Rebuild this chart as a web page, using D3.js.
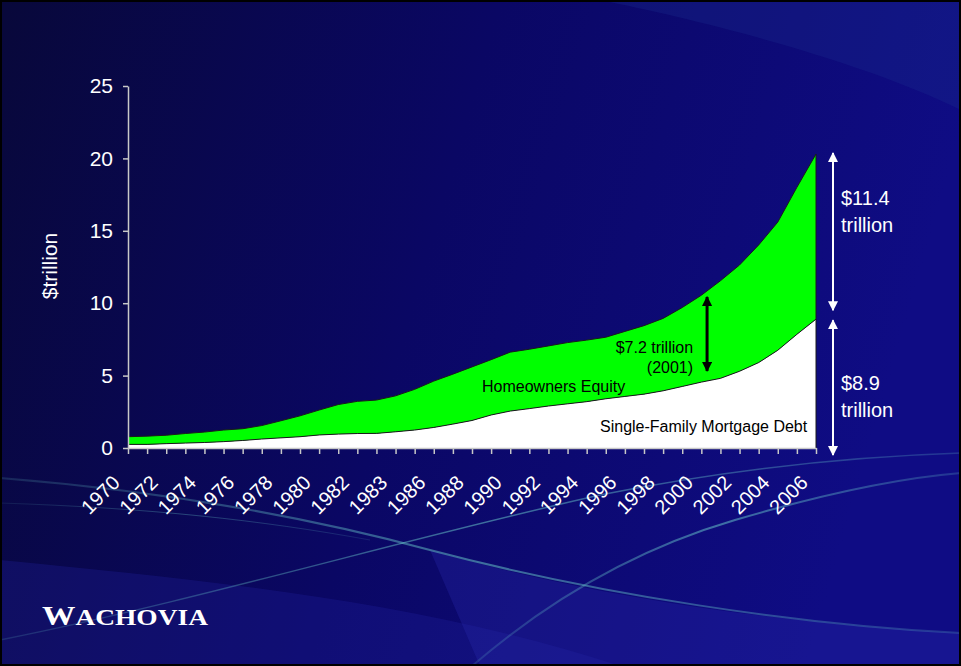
<!DOCTYPE html>
<html>
<head>
<meta charset="utf-8">
<script src="https://cdn.jsdelivr.net/npm/d3@7"></script>
<style>
body { margin: 0; background: #000; }
svg { display: block; font-family: "Liberation Sans", Arial, sans-serif; }
</style>
</head>
<body>
<svg id="chart" width="961" height="666"></svg>
<script>
// $trillion, one value per year 1970..2006
var years = d3.range(1970, 2007);
var mortgageDebt = [0.25, 0.25, 0.30, 0.34, 0.38, 0.44, 0.52, 0.62, 0.70, 0.78,
    0.90, 0.96, 1.00, 1.01, 1.12, 1.24, 1.42, 1.65, 1.90, 2.28,
    2.55, 2.72, 2.90, 3.05, 3.20, 3.40, 3.56, 3.72, 3.95, 4.25,
    4.55, 4.81, 5.30, 5.90, 6.75, 7.85, 8.90];
var homeownersEquity = [0.53, 0.57, 0.58, 0.66, 0.72, 0.80, 0.81, 0.93, 1.18, 1.44,
    1.72, 2.04, 2.22, 2.30, 2.48, 2.81, 3.20, 3.45, 3.70, 3.82,
    4.07, 4.10, 4.15, 4.23, 4.25, 4.25, 4.49, 4.73, 5.00, 5.45,
    6.00, 6.74, 7.34, 8.12, 8.85, 10.15, 11.40];
// labels as printed on the slide (note "1983" sits where 1984 should be)
var labelYears = [1970, 1972, 1974, 1976, 1978, 1980, 1982, 1984, 1986, 1988,
    1990, 1992, 1994, 1996, 1998, 2000, 2002, 2004, 2006];
var labelTexts = ["1970", "1972", "1974", "1976", "1978", "1980", "1982", "1983", "1986", "1988",
    "1990", "1992", "1994", "1996", "1998", "2000", "2002", "2004", "2006"];
var yTicks = [0, 5, 10, 15, 20, 25];

var svg = d3.select("#chart"),
    width = 961, height = 666;

// ---- background slide ----
var defs = svg.append("defs");
var bg = defs.append("linearGradient").attr("id", "bg")
    .attr("x1", 0).attr("y1", 0).attr("x2", 1).attr("y2", 0.2);
bg.append("stop").attr("offset", 0).attr("stop-color", "#08083a");
bg.append("stop").attr("offset", 0.5).attr("stop-color", "#0a0764");
bg.append("stop").attr("offset", 1).attr("stop-color", "#0f0c84");

var glow = defs.append("linearGradient").attr("id", "glow")
    .attr("x1", 0).attr("y1", 0).attr("x2", 1).attr("y2", 0);
glow.append("stop").attr("offset", 0).attr("stop-color", "#6fd6d0").attr("stop-opacity", 0.15);
glow.append("stop").attr("offset", 0.5).attr("stop-color", "#6fd6d0").attr("stop-opacity", 0.5);
glow.append("stop").attr("offset", 1).attr("stop-color", "#6fd6d0").attr("stop-opacity", 0.2);

var markW = defs.append("marker").attr("id", "arrW").attr("viewBox", "0 0 10 10")
    .attr("refX", 9).attr("refY", 5).attr("markerWidth", 5).attr("markerHeight", 5)
    .attr("orient", "auto-start-reverse");
markW.append("path").attr("d", "M0,0L10,5L0,10z").attr("fill", "#fff");
var markB = defs.append("marker").attr("id", "arrB").attr("viewBox", "0 0 10 10")
    .attr("refX", 9).attr("refY", 5).attr("markerWidth", 3.5).attr("markerHeight", 3.5)
    .attr("orient", "auto-start-reverse");
markB.append("path").attr("d", "M0,0L10,5L0,10z").attr("fill", "#000");

svg.append("rect").attr("width", width).attr("height", height).attr("fill", "url(#bg)");
svg.append("path")
    .attr("d", "M600,0 C700,20 860,60 961,110 L961,0Z")
    .attr("fill", "#1a3090").attr("opacity", 0.3);
svg.append("path")
    .attr("d", "M0,560 C200,580 420,600 620,666 L0,666Z")
    .attr("fill", "#2020a0").attr("opacity", 0.3);
svg.append("path")
    .attr("d", "M430,550 C600,600 800,625 961,633 L961,666 L480,666Z")
    .attr("fill", "#2a2ab0").attr("opacity", 0.3);

var swoosh = svg.append("g").attr("fill", "none").attr("stroke", "url(#glow)");
swoosh.append("path").attr("d", "M0,478 C150,490 300,515 430,550 C600,595 800,625 961,633").attr("stroke-width", 2);
swoosh.append("path").attr("d", "M472,666 C560,590 650,545 735,520 C830,492 900,478 961,473").attr("stroke-width", 2);
swoosh.append("path").attr("d", "M0,640 C200,600 400,540 600,495 C750,465 870,456 961,453").attr("stroke-width", 1.5);
swoosh.append("path").attr("d", "M0,503 C150,508 260,520 370,540").attr("stroke-width", 1).attr("opacity", 0.6);

// ---- chart ----
var x = d3.scaleLinear().domain([1970, 2006]).range([128, 816]);
var y = d3.scaleLinear().domain([0, 25]).range([448, 86]);

var rows = years.map(function (yr, i) {
    return { year: yr, debt: mortgageDebt[i], equity: homeownersEquity[i] };
});
var series = d3.stack().keys(["debt", "equity"])(rows);
var fills = { debt: "#ffffff", equity: "#00ff00" };

var area = d3.area()
    .x(function (d) { return x(d.data.year); })
    .y0(function (d) { return y(d[0]); })
    .y1(function (d) { return y(d[1]); });
var topLine = d3.line()
    .x(function (d) { return x(d.data.year); })
    .y(function (d) { return y(d[1]); });

var g = svg.append("g");
g.selectAll(".layer").data(series).enter().append("path")
    .attr("class", "layer")
    .attr("fill", function (s) { return fills[s.key]; })
    .attr("d", area);
g.selectAll(".edge").data(series).enter().append("path")
    .attr("class", "edge")
    .attr("fill", "none").attr("stroke", "#1a1a1a").attr("stroke-width", 1)
    .attr("d", topLine);
g.append("line")
    .attr("x1", x(2006)).attr("x2", x(2006))
    .attr("y1", y(0)).attr("y2", y(series[1][years.length - 1][1]))
    .attr("stroke", "#1a1a1a").attr("stroke-width", 1);

// axes
var axisColor = "#c8c8c8";
var yAxis = svg.append("g").attr("transform", "translate(" + x(1970) + ",0)")
    .call(d3.axisLeft(y).tickValues(yTicks).tickSize(5).tickSizeOuter(0).tickPadding(10));
var xAxis = svg.append("g").attr("transform", "translate(0," + y(0) + ")")
    .call(d3.axisBottom(x).tickValues(years).tickSize(6).tickSizeOuter(0).tickFormat(""));
[yAxis, xAxis].forEach(function (a) {
    a.select(".domain").attr("stroke", axisColor).attr("stroke-width", 1.5);
    a.selectAll(".tick line").attr("stroke", axisColor).attr("stroke-width", 1.5);
});
yAxis.selectAll(".tick text").attr("fill", "#fff").attr("font-size", 21)
    .attr("font-family", "Liberation Sans, Arial, sans-serif");

xAxis.selectAll(".yl").data(labelYears).enter().append("text")
    .attr("class", "yl")
    .attr("transform", function (d) { return "translate(" + (x(d) - 7) + ",36) rotate(-45)"; })
    .attr("text-anchor", "end")
    .attr("fill", "#fff").attr("font-size", 20)
    .text(function (d, i) { return labelTexts[i]; });

svg.append("text")
    .attr("transform", "translate(57,266) rotate(-90)")
    .attr("text-anchor", "middle")
    .attr("fill", "#fff").attr("font-size", 21)
    .text("$trillion");

// annotations inside the chart
var ax = x(2000.3),
    aTop = y(10.57), aBot = y(5.18);
svg.append("line")
    .attr("x1", ax).attr("x2", ax).attr("y1", aTop + 2).attr("y2", aBot - 2)
    .attr("stroke", "#000").attr("stroke-width", 3)
    .attr("marker-start", "url(#arrB)").attr("marker-end", "url(#arrB)");
svg.append("text").attr("x", ax - 14).attr("y", 353).attr("text-anchor", "end")
    .attr("font-size", 16).attr("fill", "#000").text("$7.2 trillion");
svg.append("text").attr("x", ax - 14).attr("y", 373).attr("text-anchor", "end")
    .attr("font-size", 16).attr("fill", "#000").text("(2001)");
svg.append("text").attr("x", 482).attr("y", 392)
    .attr("font-size", 16).attr("fill", "#000").text("Homeowners Equity");
svg.append("text").attr("x", 600).attr("y", 432)
    .attr("font-size", 16).attr("fill", "#000").text("Single-Family Mortgage Debt");

// right-hand brackets
var bx = x(2006) + 17,
    total06 = mortgageDebt[years.length - 1] + homeownersEquity[years.length - 1],
    debt06 = mortgageDebt[years.length - 1];
svg.append("line")
    .attr("x1", bx).attr("x2", bx).attr("y1", y(total06) - 1).attr("y2", y(debt06) - 9)
    .attr("stroke", "#fff").attr("stroke-width", 2)
    .attr("marker-start", "url(#arrW)").attr("marker-end", "url(#arrW)");
svg.append("line")
    .attr("x1", bx).attr("x2", bx).attr("y1", y(debt06) + 1).attr("y2", y(0) + 7)
    .attr("stroke", "#fff").attr("stroke-width", 2)
    .attr("marker-start", "url(#arrW)").attr("marker-end", "url(#arrW)");
[["$11.4", 205], ["trillion", 232], ["$8.9", 390], ["trillion", 417]].forEach(function (t) {
    svg.append("text").attr("x", 841).attr("y", t[1])
        .attr("font-size", 20).attr("fill", "#fff").text(t[0]);
});

// logo
var logo = svg.append("text").attr("x", 42).attr("y", 625)
    .attr("font-family", "Liberation Serif, DejaVu Serif, serif")
    .attr("font-weight", "bold").attr("fill", "#fff")
    .attr("textLength", 166).attr("lengthAdjust", "spacingAndGlyphs");
logo.append("tspan").attr("font-size", 28).text("W");
logo.append("tspan").attr("font-size", 23).text("ACHOVIA");

// slide border
svg.append("rect").attr("x", 1).attr("y", 1).attr("width", width - 2).attr("height", height - 2)
    .attr("fill", "none").attr("stroke", "#000").attr("stroke-width", 2);
</script>
</body>
</html>
